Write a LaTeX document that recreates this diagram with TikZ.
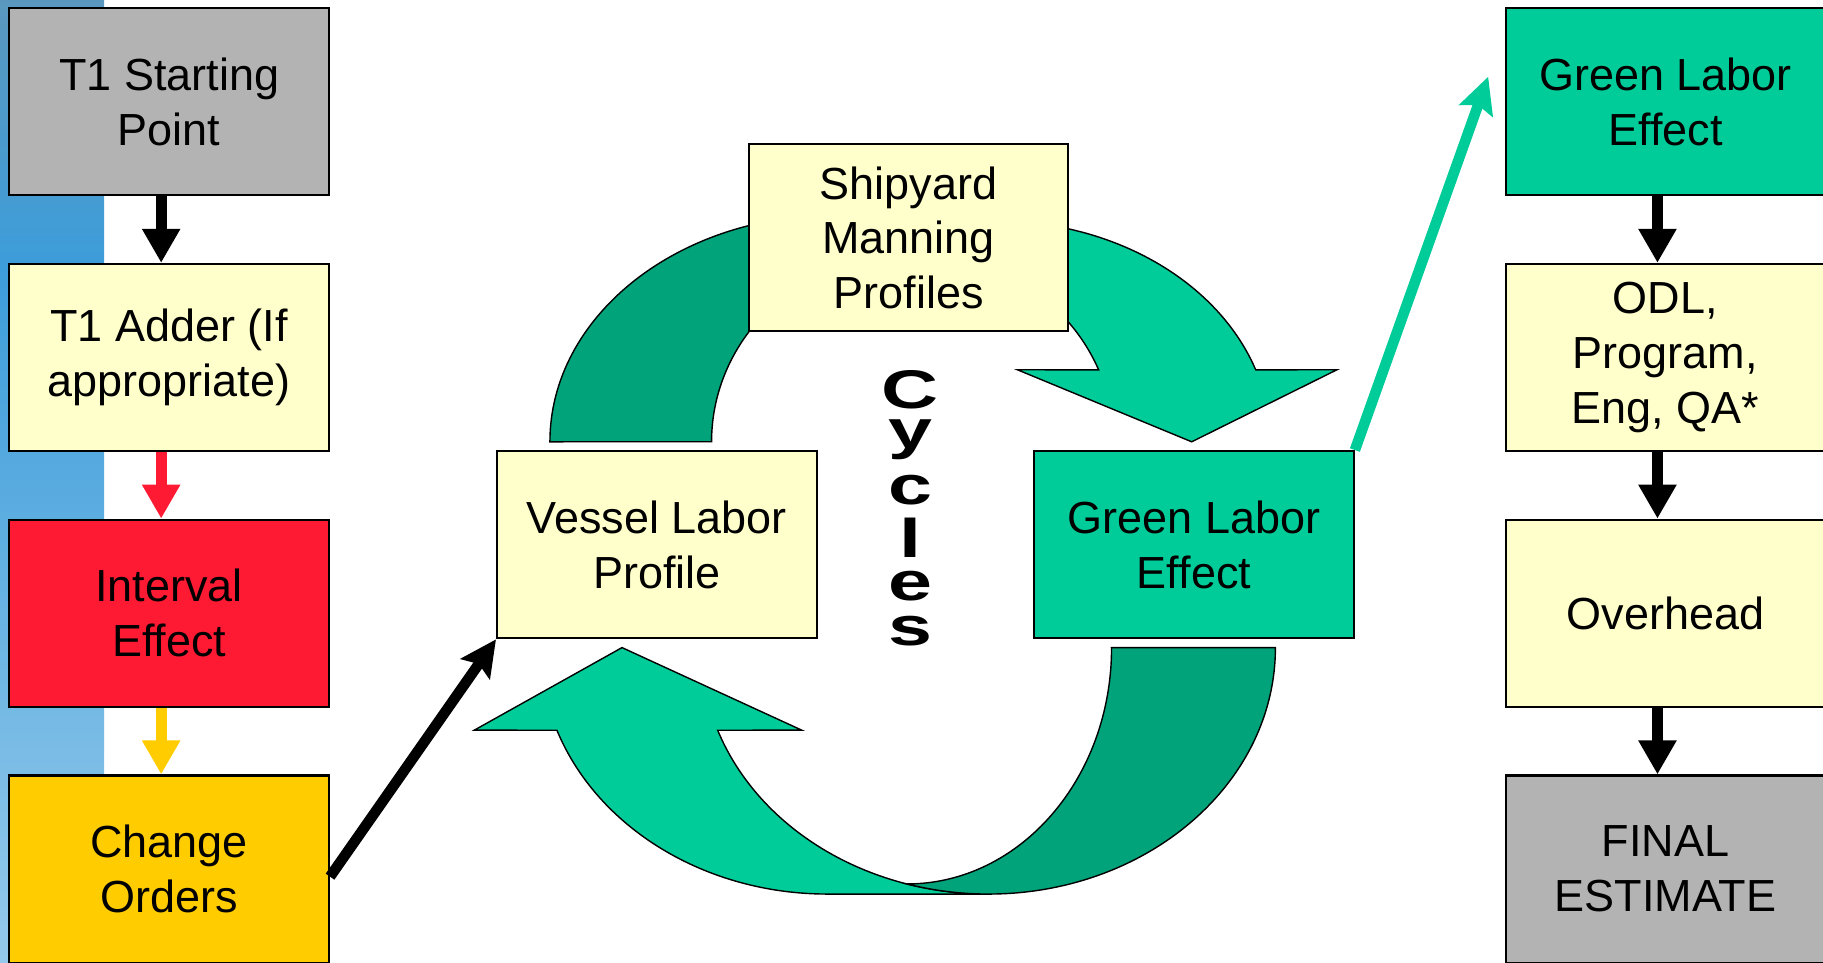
\documentclass[tikz,border=0pt]{standalone}
\usepackage{fontspec}
\setmainfont{Liberation Sans}
\newfontfamily\widesans[FakeStretch=1.45]{Liberation Sans}
\usetikzlibrary{arrows.meta}

\definecolor{boxgray}{HTML}{B3B3B3}
\definecolor{paleyellow}{HTML}{FFFFCC}
\definecolor{alertred}{HTML}{FF1A33}
\definecolor{gold}{HTML}{FFCC00}
\definecolor{cyclight}{HTML}{00CC99}
\definecolor{cycdark}{HTML}{00A37A}
\definecolor{stripblue}{HTML}{3D9DDA}

\tikzset{
  stage/.style={draw, line width=0.6pt, minimum width=3.197cm, minimum height=1.872cm,
                inner sep=0pt, align=center, font=\fontsize{12.8}{15.6}\selectfont},
  flow/.style={line width=3.2pt, -{Triangle[width=0.36cm,length=0.34cm]}},
  link/.style={line width=3pt, -{Stealth[width=0.35cm,length=0.36cm,inset=0.06cm]}}
}

\begin{document}
\begin{tikzpicture}[x=0.011626cm, y=-0.011626cm]
                \useasboundingbox (0,0) rectangle (1568,828);

                \shade[top color=black!20!stripblue!80!white, bottom color=stripblue] (0,0) rectangle (89.5,230);
                \shade[top color=stripblue, bottom color=stripblue!55!white] (0,230) rectangle (89.5,828);

                % top curved arrow
                \filldraw[fill=cycdark] (473,380) arc[start angle=180, end angle=270, x radius=245, y radius=195]
                    -- (718,229.7) arc[start angle=247.2, end angle=180, x radius=173, y radius=163] -- cycle;
                \filldraw[fill=cyclight] (856,190) arc[start angle=270, end angle=341, x radius=237, y radius=190]
                    -- (1150,318) -- (1025,380) -- (875,318)
                    -- (945,318.2) arc[start angle=337.7, end angle=270, x radius=173, y radius=163] -- cycle;

                % bottom curved arrow
                \filldraw[fill=cyclight] (535,557) -- (689.5,628)
                    -- (617.3,628.1) arc[start angle=160.4, end angle=90, x radius=247, y radius=212]
                    -- (711.7,769) arc[start angle=90, end angle=160.4, x radius=247, y radius=212]
                    -- (408,628) -- cycle;
                \filldraw[fill=cycdark] (956,557) -- (1097,557)
                    arc[start angle=0, end angle=90, x radius=247, y radius=212]
                    arc[start angle=90, end angle=106.45, x radius=247, y radius=212]
                    arc[start angle=90, end angle=0, x radius=176, y radius=203] -- cycle;

                \node[stage, fill=boxgray] (start) at (145.5,87.5) {T1 Starting\\Point};
                \node[stage, fill=paleyellow] (adder) at (145.5,307.5) {T1 Adder (If\\appropriate)};
                \node[stage, fill=alertred] (interval) at (145.5,527.5) {Interval\\Effect};
                \node[stage, fill=gold] (change) at (145.5,747.5) {Change\\Orders};

                \node[stage, fill=paleyellow] (shipyard) at (781.5,204.5) {Shipyard\\Manning\\Profiles};
                \node[stage, fill=paleyellow] (vessel) at (565,468.5) {Vessel Labor\\Profile};
                \node[stage, fill=cyclight] (greenmid) at (1027,468.5) {Green Labor\\Effect};
                \node[anchor=north, align=center, inner sep=0pt,
                      font={\widesans\bfseries\fontsize{15.5}{11.2}\selectfont\lineskiplimit=-50pt}]
                    (cycles) at (782.7,318.3) {C\\y\\[4.7pt]c\\[4pt]l\\[1pt]e\\[1.7pt]s};

                \node[stage, fill=cyclight] (greenout) at (1432.5,87.5) {Green Labor\\Effect};
                \node[stage, fill=paleyellow] (odl) at (1432.5,307.5) {ODL,\\Program,\\Eng, QA*};
                \node[stage, fill=paleyellow] (overhead) at (1432.5,527.5) {Overhead};
                \node[stage, fill=boxgray] (final) at (1432.5,747.5) {FINAL\\ESTIMATE};

                \draw[flow] ([xshift=-0.08cm]start.south) -- ([xshift=-0.08cm]adder.north);
                \draw[flow, alertred] ([xshift=-0.08cm]adder.south) -- ([xshift=-0.08cm]interval.north);
                \draw[flow, gold] ([xshift=-0.08cm]interval.south) -- ([xshift=-0.08cm]change.north);

                \draw[flow] ([xshift=-0.08cm]greenout.south) -- ([xshift=-0.08cm]odl.north);
                \draw[flow] ([xshift=-0.08cm]odl.south) -- ([xshift=-0.08cm]overhead.north);
                \draw[flow] ([xshift=-0.08cm]overhead.south) -- ([xshift=-0.08cm]final.north);

                \draw[link] ([yshift=-0.076cm]change.east) -- (vessel.south west);
                \coordinate (greentip) at (1280,66);
                \draw[link, cyclight] (greenmid.north east) -- (greentip);
            \end{tikzpicture}
\end{document}
